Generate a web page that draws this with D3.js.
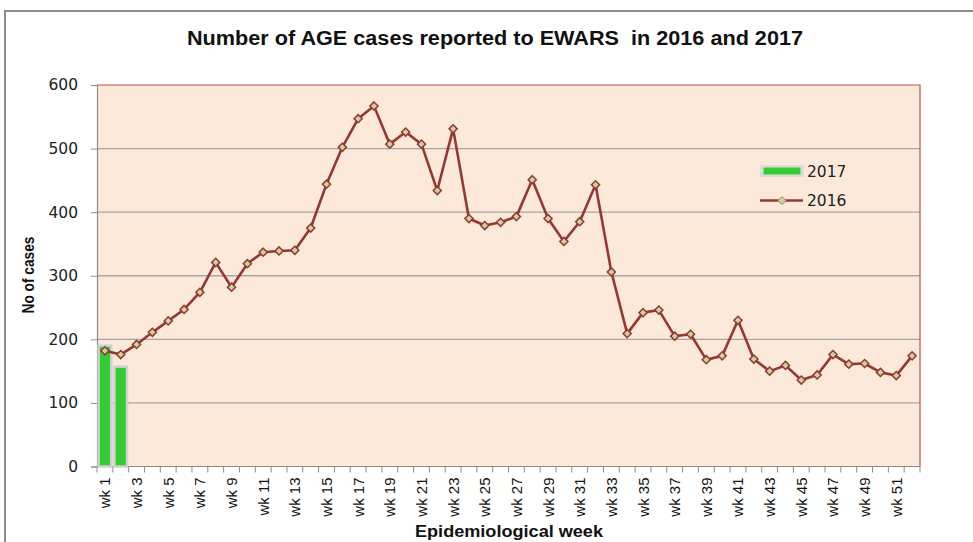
<!DOCTYPE html>
<html>
<head>
<meta charset="utf-8">
<script src="https://cdn.jsdelivr.net/npm/d3@7"></script>
<style>
  html, body { margin: 0; padding: 0; background: #fff; }
  svg { display: block; }
</style>
</head>
<body>
<div id="chart"></div>
<script>
// weekly AGE cases
const weeks = d3.range(1, 53).map((w) => "wk " + w);

const cases2016 = [
  182, 176, 192, 211, 229, 247, 274, 321, 282, 319,
  337, 339, 340, 375, 444, 502, 547, 567, 507, 526,
  507, 434, 531, 390, 379, 384, 393, 451, 390, 354,
  385, 443, 306, 209, 242, 246, 205, 208, 168, 174,
  230, 169, 150, 159, 136, 144, 176, 161, 162, 148,
  143, 174,
];

// only two weeks reported so far in 2017
const cases2017 = [190, 157];

const yTicks = [0, 100, 200, 300, 400, 500, 600];

const width = 973;
const height = 542;
const margin = { top: 85, right: 53, bottom: 75.5, left: 97 };

const svg = d3
  .select("#chart")
  .append("svg")
  .attr("width", width)
  .attr("height", height);

// outer chart frame (cropped on the right/bottom like the source)
svg
  .append("rect")
  .attr("x", 5)
  .attr("y", 11)
  .attr("width", width + 20)
  .attr("height", height + 20)
  .attr("fill", "#fff")
  .attr("stroke", "#8c8c8c")
  .attr("stroke-width", 2);

const x = d3
  .scaleBand()
  .domain(weeks)
  .range([margin.left, width - margin.right])
  .padding(0);

const y = d3
  .scaleLinear()
  .domain([0, 600])
  .range([height - margin.bottom, margin.top]);

const plotW = width - margin.right - margin.left;
const plotH = height - margin.bottom - margin.top;

// plot background
svg
  .append("rect")
  .attr("x", margin.left)
  .attr("y", margin.top)
  .attr("width", plotW)
  .attr("height", plotH)
  .attr("fill", "#fde9d9");

// gridlines
svg
  .append("g")
  .selectAll("line")
  .data(yTicks.filter((t) => t > 0 && t < 600))
  .join("line")
  .attr("x1", margin.left)
  .attr("x2", width - margin.right)
  .attr("y1", (d) => y(d))
  .attr("y2", (d) => y(d))
  .attr("stroke", "#a6a6a6")
  .attr("stroke-width", 1.3);

// top + right border are reddish in the original
svg
  .append("path")
  .attr(
    "d",
    `M${margin.left},${y(600)}H${width - margin.right}V${y(0)}`
  )
  .attr("fill", "none")
  .attr("stroke", "#c0504d")
  .attr("stroke-width", 1.2);

// y axis
const yAxis = svg
  .append("g")
  .attr("transform", `translate(${margin.left},0)`)
  .call(d3.axisLeft(y).tickValues(yTicks).tickSize(6).tickPadding(13));

yAxis.select(".domain").attr("stroke", "#8c8c8c").attr("stroke-width", 1.2);
yAxis.selectAll(".tick line").attr("stroke", "#8c8c8c");
yAxis
  .selectAll(".tick text")
  .attr("font-family", "DejaVu Sans, sans-serif")
  .attr("font-size", 15.5)
  .attr("fill", "#222");

// x axis: ticks at category boundaries, labels every other week
const xAxisG = svg
  .append("g")
  .attr("transform", `translate(0,${y(0)})`);

xAxisG
  .append("line")
  .attr("x1", margin.left)
  .attr("x2", width - margin.right)
  .attr("stroke", "#8c8c8c")
  .attr("stroke-width", 1.2);

xAxisG
  .selectAll(".xtick")
  .data(weeks.concat(["end"]))
  .join("line")
  .attr("class", "xtick")
  .attr("x1", (d, i) => (i < weeks.length ? x(d) : x.range()[1]))
  .attr("x2", (d, i) => (i < weeks.length ? x(d) : x.range()[1]))
  .attr("y1", 0)
  .attr("y2", 6)
  .attr("stroke", "#8c8c8c");

xAxisG
  .selectAll(".xlabel")
  .data(weeks.filter((d, i) => i % 2 === 0))
  .join("text")
  .attr("class", "xlabel")
  .attr(
    "transform",
    (d) => `translate(${x(d) + x.bandwidth() / 2 + 5.5},11) rotate(-90)`
  )
  .attr("text-anchor", "end")
  .attr("font-family", "Liberation Sans, Arial, sans-serif")
  .attr("font-size", 15)
  .attr("fill", "#111")
  .text((d) => d);

// 2017 bars
svg
  .append("g")
  .selectAll("rect")
  .data(cases2017)
  .join("rect")
  .attr("x", (d, i) => x(weeks[i]) + 1.6)
  .attr("y", (d) => y(d))
  .attr("width", x.bandwidth() - 3.2)
  .attr("height", (d) => y(0) - y(d))
  .attr("fill", "#33cc33")
  .attr("stroke", "#d0d0d0")
  .attr("stroke-width", 2.5);

// 2016 line
const line = d3
  .line()
  .x((d, i) => x(weeks[i]) + x.bandwidth() / 2)
  .y((d) => y(d));

svg
  .append("path")
  .datum(cases2016)
  .attr("d", line)
  .attr("fill", "none")
  .attr("stroke", "#953735")
  .attr("stroke-width", 2.6)
  .attr("stroke-linejoin", "round");

const diamond = d3.symbol().type(d3.symbolDiamond2).size(42);

svg
  .append("g")
  .selectAll("path")
  .data(cases2016)
  .join("path")
  .attr("d", diamond)
  .attr(
    "transform",
    (d, i) => `translate(${x(weeks[i]) + x.bandwidth() / 2},${y(d)})`
  )
  .attr("fill", "#c3d69b")
  .attr("stroke", "#953735")
  .attr("stroke-width", 1.5);

// legend
const legend = svg.append("g").attr("transform", "translate(760,165)");

legend
  .append("rect")
  .attr("x", 0)
  .attr("y", 0)
  .attr("width", 44)
  .attr("height", 12)
  .attr("fill", "#dcdcdc");
legend
  .append("rect")
  .attr("x", 3.5)
  .attr("y", 2.5)
  .attr("width", 37)
  .attr("height", 7)
  .attr("fill", "#33cc33");
legend
  .append("text")
  .attr("x", 47)
  .attr("y", 11.5)
  .attr("font-family", "DejaVu Sans, sans-serif")
  .attr("font-size", 15.5)
  .attr("fill", "#222")
  .text("2017");

legend
  .append("line")
  .attr("x1", 0)
  .attr("x2", 43)
  .attr("y1", 35.5)
  .attr("y2", 35.5)
  .attr("stroke", "#953735")
  .attr("stroke-width", 2.6);
legend
  .append("path")
  .attr("d", diamond)
  .attr("transform", "translate(22,35.5)")
  .attr("fill", "#c3d69b")
  .attr("stroke", "#b07a70")
  .attr("stroke-width", 1);
legend
  .append("text")
  .attr("x", 47)
  .attr("y", 41)
  .attr("font-family", "DejaVu Sans, sans-serif")
  .attr("font-size", 15.5)
  .attr("fill", "#222")
  .text("2016");

// titles; squeeze/stretch to the width seen in the source
function fitText(sel, targetW) {
  sel.attr("textLength", targetW).attr("lengthAdjust", "spacingAndGlyphs");
}

const title = svg
  .append("text")
  .attr("x", 495)
  .attr("y", 45)
  .attr("text-anchor", "middle")
  .attr("font-family", "Liberation Sans, Arial, sans-serif")
  .attr("font-weight", "bold")
  .attr("font-size", 20)
  .attr("fill", "#111")
  .attr("xml:space", "preserve")
  .style("white-space", "pre")
  .text("Number of AGE cases reported to EWARS  in 2016 and 2017");
fitText(title, 616);

const xTitle = svg
  .append("text")
  .attr("x", 509)
  .attr("y", 537)
  .attr("text-anchor", "middle")
  .attr("font-family", "Liberation Sans, Arial, sans-serif")
  .attr("font-weight", "bold")
  .attr("font-size", 16)
  .attr("fill", "#111")
  .text("Epidemiological week");
fitText(xTitle, 188);

const yTitle = svg
  .append("text")
  .attr("transform", "translate(34,275) rotate(-90)")
  .attr("text-anchor", "middle")
  .attr("font-family", "Liberation Sans, Arial, sans-serif")
  .attr("font-weight", "bold")
  .attr("font-size", 16)
  .attr("fill", "#111")
  .text("No of cases");
fitText(yTitle, 77);
</script>
</body>
</html>
